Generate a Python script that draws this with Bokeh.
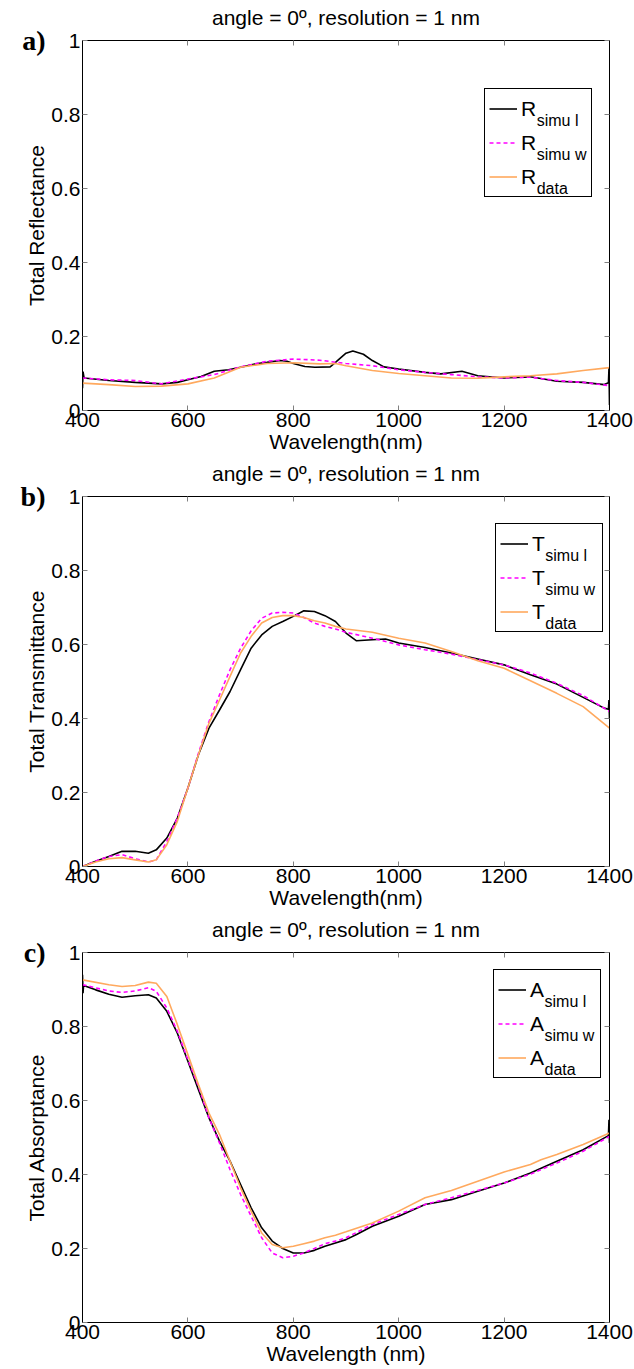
from bokeh.plotting import figure
from bokeh.models import Range1d, LinearAxis, FixedTicker, Legend, LegendItem, Label
from bokeh.layouts import column
from bokeh.embed import file_html
from bokeh.resources import INLINE

# ---------------- data ----------------
TITLE = "angle = 0º, resolution = 1 nm"
x_ticks = [400, 600, 800, 1000, 1200, 1400]
y_ticks = [0, 0.2, 0.4, 0.6, 0.8, 1]

# panel a : reflectance
R_l_x = [400, 401, 403, 450, 500, 550, 580, 600, 625, 650, 677, 700, 729, 750, 775, 788, 800, 822, 841,
         870, 880, 900, 913, 933, 950, 972, 1000, 1050, 1080, 1120, 1150, 1200, 1250, 1300, 1350, 1390,
         1398, 1399, 1400]
R_l_y = [0.060, 0.105, 0.088, 0.081, 0.076, 0.072, 0.076, 0.083, 0.092, 0.106, 0.110, 0.117, 0.126, 0.130,
         0.135, 0.133, 0.127, 0.119, 0.117, 0.118, 0.130, 0.155, 0.161, 0.152, 0.135, 0.118, 0.112, 0.103,
         0.099, 0.106, 0.094, 0.088, 0.091, 0.079, 0.076, 0.070, 0.075, 0.115, 0.015]
R_w_x = [400, 450, 500, 550, 600, 650, 700, 750, 800, 850, 900, 950, 1000, 1050, 1100, 1150, 1200, 1250,
         1300, 1350, 1400]
R_w_y = [0.088, 0.083, 0.081, 0.072, 0.085, 0.097, 0.118, 0.133, 0.139, 0.136, 0.127, 0.121, 0.110, 0.103,
         0.097, 0.091, 0.088, 0.090, 0.081, 0.076, 0.067]
R_d_x = [400, 450, 500, 550, 600, 650, 700, 750, 800, 850, 880, 900, 950, 1000, 1050, 1100, 1150, 1200,
         1250, 1300, 1350, 1400]
R_d_y = [0.074, 0.070, 0.065, 0.066, 0.072, 0.088, 0.117, 0.127, 0.129, 0.126, 0.127, 0.121, 0.108, 0.100,
         0.094, 0.088, 0.087, 0.091, 0.094, 0.099, 0.108, 0.116]

# panel b : transmittance
T_l_x = [400, 425, 450, 475, 500, 525, 540, 560, 580, 600, 620, 640, 660, 680, 700, 720, 740, 760, 780, 800,
         820, 840, 860, 880, 900, 920, 950, 975, 1000, 1050, 1100, 1150, 1200, 1250, 1300, 1350, 1390,
         1398, 1399, 1400]
T_l_y = [0.000, 0.014, 0.027, 0.041, 0.041, 0.036, 0.045, 0.077, 0.131, 0.212, 0.302, 0.374, 0.423, 0.473,
         0.532, 0.590, 0.626, 0.649, 0.662, 0.676, 0.691, 0.689, 0.678, 0.662, 0.631, 0.610, 0.613, 0.615,
         0.604, 0.592, 0.577, 0.561, 0.545, 0.518, 0.493, 0.457, 0.428, 0.425, 0.450, 0.400]
T_w_x = [400, 425, 450, 475, 500, 525, 540, 560, 580, 600, 620, 640, 660, 680, 700, 720, 740, 760, 780, 800,
         820, 840, 860, 880, 900, 950, 1000, 1050, 1100, 1150, 1200, 1250, 1300, 1350, 1400]
T_w_y = [0.000, 0.015, 0.027, 0.032, 0.021, 0.012, 0.018, 0.068, 0.131, 0.212, 0.306, 0.392, 0.464, 0.532,
         0.590, 0.637, 0.671, 0.685, 0.687, 0.685, 0.673, 0.658, 0.649, 0.642, 0.633, 0.617, 0.599, 0.586,
         0.574, 0.559, 0.545, 0.523, 0.495, 0.462, 0.419]
T_d_x = [400, 425, 450, 475, 500, 525, 540, 560, 580, 600, 620, 640, 660, 680, 700, 720, 740, 760, 780, 800,
         820, 840, 860, 880, 900, 950, 1000, 1050, 1100, 1150, 1200, 1250, 1300, 1350, 1400]
T_d_y = [0.000, 0.012, 0.021, 0.024, 0.018, 0.012, 0.018, 0.059, 0.122, 0.212, 0.302, 0.387, 0.450, 0.514,
         0.577, 0.622, 0.658, 0.673, 0.678, 0.678, 0.673, 0.664, 0.658, 0.649, 0.642, 0.633, 0.617, 0.604,
         0.581, 0.556, 0.536, 0.502, 0.468, 0.432, 0.374]

# panel c : absorptance
A_l_x = [400, 401, 402, 425, 450, 475, 500, 525, 540, 560, 580, 600, 620, 640, 660, 680, 700, 720, 740, 760,
         780, 800, 820, 840, 860, 880, 900, 920, 950, 1000, 1050, 1100, 1150, 1200, 1250, 1300, 1350,
         1398, 1399, 1400]
A_l_y = [0.940, 0.890, 0.911, 0.899, 0.887, 0.879, 0.883, 0.886, 0.877, 0.841, 0.782, 0.706, 0.629, 0.553,
         0.490, 0.436, 0.373, 0.310, 0.256, 0.220, 0.200, 0.188, 0.188, 0.195, 0.206, 0.215, 0.224, 0.238,
         0.260, 0.287, 0.319, 0.332, 0.355, 0.377, 0.404, 0.436, 0.467, 0.505, 0.548, 0.485]
A_w_x = [400, 450, 475, 500, 525, 540, 560, 580, 600, 620, 640, 660, 680, 700, 720, 740, 760, 780, 800, 820,
         840, 860, 880, 900, 950, 1000, 1050, 1100, 1150, 1200, 1250, 1300, 1350, 1400]
A_w_y = [0.913, 0.896, 0.892, 0.896, 0.905, 0.895, 0.850, 0.787, 0.710, 0.638, 0.553, 0.485, 0.413, 0.346,
         0.287, 0.229, 0.188, 0.175, 0.179, 0.188, 0.200, 0.213, 0.220, 0.229, 0.265, 0.292, 0.319, 0.337,
         0.357, 0.377, 0.401, 0.431, 0.463, 0.503]
A_d_x = [400, 450, 475, 500, 525, 540, 560, 580, 600, 620, 640, 660, 680, 700, 720, 740, 760, 780, 800, 820,
         840, 860, 880, 900, 950, 1000, 1050, 1100, 1150, 1200, 1250, 1270, 1300, 1350, 1400]
A_d_y = [0.926, 0.913, 0.908, 0.911, 0.920, 0.917, 0.881, 0.805, 0.724, 0.643, 0.566, 0.508, 0.436, 0.364,
         0.301, 0.242, 0.211, 0.202, 0.206, 0.213, 0.220, 0.229, 0.236, 0.245, 0.269, 0.301, 0.337, 0.357,
         0.382, 0.407, 0.427, 0.440, 0.454, 0.481, 0.512]

# ---------------- styling ----------------
FONT = "Liberation Sans"
SERIF = "Liberation Serif"
BLACK = "#000000"
MAGENTA = "#ff00ff"
ORANGE = "#ffa95e"
FRAME_W = 527
FRAME_H = 370
LEFT = 82
RIGHT = 24
TOP = 40
BOTTOM = 46
FS = "21px"

LEG_PAD = 4
LEG_ROW = 31
LEG_SPACING = 3
LEG_GLYPH_W = 28
LEG_STANDOFF = 4
LEG_LABEL_W = 66
LEG_H = 2 * LEG_PAD + 3 * LEG_ROW + 2 * LEG_SPACING


def px_to_x(px):
    return 400 + px * 1000.0 / FRAME_W


def py_to_y(py):
    return py / float(FRAME_H)


def style_axis(ax, show_labels=True):
    ax.axis_line_color = BLACK
    ax.axis_line_width = 1
    ax.major_tick_line_color = "#808080"
    ax.major_tick_in = 5
    ax.major_tick_out = 0
    ax.minor_tick_line_color = None
    ax.major_label_text_font = FONT
    ax.major_label_text_color = BLACK
    ax.axis_label_text_font = FONT
    ax.axis_label_text_font_size = FS
    ax.axis_label_text_font_style = "normal"
    ax.axis_label_text_color = BLACK
    if show_labels:
        ax.major_label_text_font_size = FS
        ax.major_label_standoff = 2
    else:
        ax.major_label_text_font_size = "0px"
        ax.major_label_standoff = 0


def make_panel(letter, sym, ylabel, xlabel, series, leg_left, leg_top):
    p = figure(frame_width=FRAME_W, frame_height=FRAME_H, output_backend="svg", toolbar_location=None,
               x_range=Range1d(400, 1400), y_range=Range1d(0, 1),
               min_border_left=LEFT, min_border_right=RIGHT, min_border_top=TOP, min_border_bottom=BOTTOM)
    p.xgrid.visible = False
    p.ygrid.visible = False
    p.outline_line_color = BLACK
    p.outline_line_alpha = 1
    p.background_fill_color = "white"
    p.border_fill_color = "white"

    xt = FixedTicker(ticks=x_ticks)
    yt = FixedTicker(ticks=y_ticks)
    p.xaxis.ticker = xt
    p.yaxis.ticker = yt
    style_axis(p.xaxis[0])
    style_axis(p.yaxis[0])
    p.yaxis[0].major_label_overrides = {0: "0", 1: "1"}
    p.xaxis.axis_label = xlabel
    p.yaxis.axis_label = ylabel
    p.xaxis[0].axis_label_standoff = 0
    p.yaxis[0].axis_label_standoff = 0

    # top axis: inward ticks, and the panel title as its axis label
    top_ax = LinearAxis(ticker=xt, major_label_overrides={t: "" for t in x_ticks}, axis_label=TITLE)
    style_axis(top_ax, False)
    top_ax.axis_label_standoff = 12
    p.add_layout(top_ax, "above")
    right_ax = LinearAxis(ticker=yt, major_label_overrides={t: "" for t in y_ticks})
    style_axis(right_ax, False)
    p.add_layout(right_ax, "right")

    # panel letter, written as the single tick label of an outer left axis at y = 1
    letter_ax = LinearAxis(ticker=FixedTicker(ticks=[1]), major_label_overrides={1: letter},
                           axis_line_color=None, major_tick_line_color=None, minor_tick_line_color=None,
                           major_label_text_font=SERIF, major_label_text_font_size="28px",
                           major_label_text_font_style="bold", major_label_text_color=BLACK,
                           major_label_standoff=-29)
    p.add_layout(letter_ax, "left")

    (lx, ly), (wx, wy), (dx, dy) = series
    r1 = p.line(lx, ly, line_color=BLACK, line_width=1.6)
    r2 = p.line(wx, wy, line_color=MAGENTA, line_width=1.6, line_dash="4 3")
    r3 = p.line(dx, dy, line_color=ORANGE, line_width=1.6)
    renderers = [r1, r2, r3]

    leg_bottom = FRAME_H - leg_top - LEG_H
    legend = Legend(items=[LegendItem(label=sym, renderers=[r]) for r in renderers],
                    location=(leg_left, leg_bottom),
                    padding=LEG_PAD, spacing=LEG_SPACING, margin=0,
                    glyph_width=LEG_GLYPH_W, glyph_height=LEG_ROW,
                    label_height=LEG_ROW, label_width=LEG_LABEL_W, label_standoff=LEG_STANDOFF,
                    label_text_font=FONT, label_text_font_size=FS, label_text_color=BLACK,
                    border_line_color=BLACK, border_line_alpha=1, border_line_width=1,
                    background_fill_alpha=0)
    p.add_layout(legend, "center")

    sym_w = {"R": 15.2, "T": 12.8, "A": 14.0}[sym]
    sub_px = leg_left + LEG_PAD + LEG_GLYPH_W + LEG_STANDOFF + sym_w + 1
    for i, sub in enumerate(["simu l", "simu w", "data"]):
        row_c = leg_bottom + LEG_H - (LEG_PAD + i * (LEG_ROW + LEG_SPACING) + LEG_ROW / 2)
        p.add_layout(Label(x=px_to_x(sub_px), y=py_to_y(row_c - 10), text=sub,
                           text_font=FONT, text_font_size="16px", text_color=BLACK,
                           text_baseline="middle", text_align="left"))
    return p


pa = make_panel("a)", "R", "Total Reflectance", "Wavelength(nm)",
                [(R_l_x, R_l_y), (R_w_x, R_w_y), (R_d_x, R_d_y)], 402, 50)
pb = make_panel("b)", "T", "Total Transmittance", "Wavelength(nm)",
                [(T_l_x, T_l_y), (T_w_x, T_w_y), (T_d_x, T_d_y)], 413, 29)
pc = make_panel("c)", "A", "Total Absorptance", "Wavelength (nm)",
                [(A_l_x, A_l_y), (A_w_x, A_w_y), (A_d_x, A_d_y)], 411, 19)

layout = column(pa, pb, pc, spacing=0)
open("out.html", "w").write(file_html(layout, INLINE))
